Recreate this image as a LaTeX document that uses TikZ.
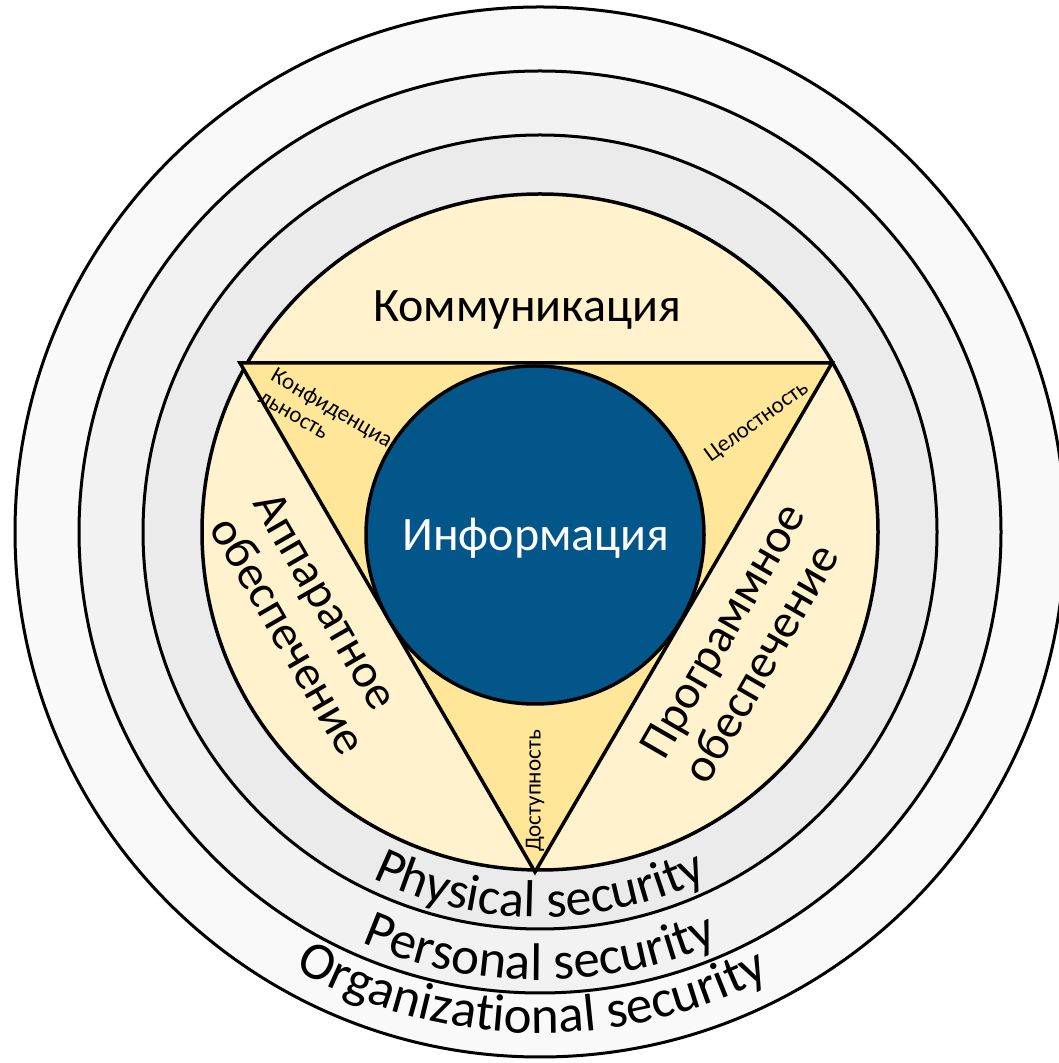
\documentclass[tikz,border=0pt]{standalone}
\usepackage{fontspec}
\setmainfont{Carlito}
\usetikzlibrary{decorations.text}
\definecolor{ringA}{HTML}{F9F9F9}
\definecolor{ringB}{HTML}{F2F2F2}
\definecolor{ringC}{HTML}{EBEBEB}
\definecolor{paleyellow}{HTML}{FFF2CC}
\definecolor{deepyellow}{HTML}{FFE699}
\definecolor{infoblue}{RGB}{2,86,138}
\tikzset{
  ring/.style={draw=black, line width=3pt},
  core/.style={draw=black, line width=3.5pt},
  bigtext/.style={font=\fontsize{48}{54}\selectfont, inner sep=0pt},
  sidetext/.style={font=\fontsize{48}{50}\selectfont, inner sep=0pt, align=left},
  smalltext/.style={font=\fontsize{23}{25}\selectfont, inner sep=0pt, align=left},
}
\begin{document}
\begin{tikzpicture}[x=1pt,y=1pt]
\useasboundingbox (0,0) rectangle (1059,1063);
\coordinate (O) at (540,531);
\fill[white] (0,0) rectangle (1059,1063);
% rings
\draw[ring, fill=ringA] (O) circle[radius=525];
\draw[ring, fill=ringB] (O) circle[radius=461];
\draw[ring, fill=ringC] (O) circle[radius=397];
\draw[core, fill=paleyellow] (O) circle[radius=338];
% triangle
\coordinate (TL) at (240,700);
\coordinate (TR) at (832,700);
\coordinate (B) at (535,191);
\draw[core, fill=deepyellow, line join=miter] (TL) -- (TR) -- (B) -- cycle;
% information circle
\node[core, fill=infoblue, circle, minimum size=338pt, inner sep=0pt] (info) at (535,528) {};
\node[bigtext, text=white] (infolabel) at (536,525) {Информация};
% labels
\node[bigtext] (comm) at (527,753) {Коммуникация};
\node[sidetext, rotate=-60] (hw) at (310,440) {Аппаратное\\обеспечение};
\node[sidetext, rotate=60] (sw) at (744,420) {Программное\\обеспечение};
\node[smalltext, rotate=-30] (conf) at (326,645) {Конфиденциа\\льность};
\node[smalltext, rotate=36] (integ) at (757,641) {Целостность};
\node[smalltext, rotate=90] (avail) at (535,272) {Доступность};
% curved ring labels
\path[decorate, decoration={text along path, text align=center,
  text={|\fontsize{52}{56}\selectfont|Physical security}}]
  (O) ++(195:385) arc[start angle=195, end angle=345, radius=385];
\path[decorate, decoration={text along path, text align=center,
  text={|\fontsize{53}{56}\selectfont|Personal security}}]
  (O) ++(195:448) arc[start angle=195, end angle=345, radius=448];
\path[decorate, decoration={text along path, text align=center,
  text={|\fontsize{53}{56}\selectfont|Organizational security}}]
  (O) ++(194:501) arc[start angle=194, end angle=344, radius=501];
\end{tikzpicture}
\end{document}
